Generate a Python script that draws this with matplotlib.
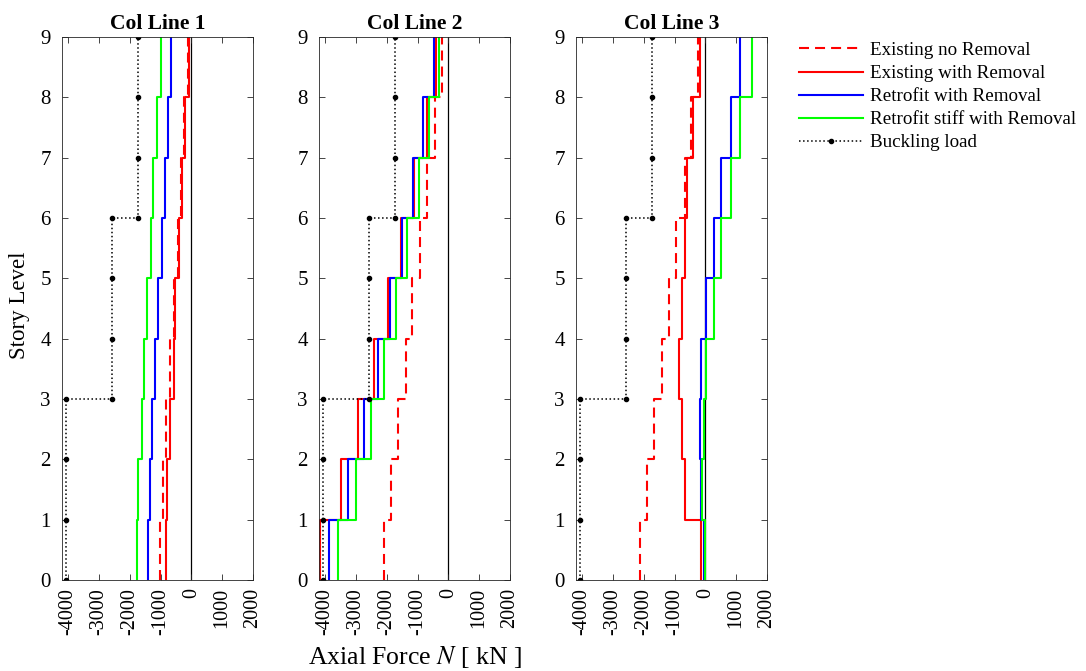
import numpy as np
import matplotlib
matplotlib.use("Agg")
import matplotlib.pyplot as plt

plt.rcParams['font.family'] = ['Liberation Serif', 'DejaVu Serif']
plt.rcParams['mathtext.fontset'] = 'stix'
plt.rcParams['axes.unicode_minus'] = False

# Axial force per story segment (0-1, 1-2, ..., 8-9), kN
titles = ["Col Line 1", "Col Line 2", "Col Line 3"]

exist_no_rem = [
    [-1025, -920, -810, -700, -580, -440, -350, -230, -100],
    [-2100, -1865, -1620, -1380, -1165, -925, -680, -430, -195],
    [-2135, -1895, -1670, -1410, -1180, -940, -670, -455, -230],
]
exist_rem = [
    [-810, -790, -685, -565, -520, -415, -310, -200, -75],
    [-4160, -3480, -2945, -2405, -1975, -1530, -1110, -700, -410],
    [-150, -650, -745, -855, -760, -670, -585, -400, -185],
]
retro_rem = [
    [-1400, -1345, -1270, -1165, -1080, -970, -865, -760, -650],
    [-3890, -3270, -2750, -2275, -1900, -1510, -1140, -820, -463],
    [-60, -150, -185, -130, 30, 270, 495, 820, 1135],
]
retro_stiff = [
    [-1770, -1720, -1610, -1540, -1430, -1310, -1240, -1130, -1000],
    [-3590, -3000, -2510, -2080, -1690, -1330, -970, -645, -300],
    [-20, -110, -55, 30, 270, 520, 820, 1135, 1500],
]

# buckling load: (force, story) points
buck_x = [-4070, -4070, -4070, -4070, -2570, -2570, -2570, -2570, -1720, -1720, -1720, -1720]
buck_y = [0, 1, 2, 3, 3, 4, 5, 6, 6, 7, 8, 9]

stories = np.arange(10)


def steps(vals):
    # vertical staircase: each value holds from story i to i+1
    x = np.repeat(vals, 2)
    y = np.repeat(stories, 2)[1:-1]
    return x, y


fig = plt.figure(figsize=(10.86, 6.71), dpi=100)

lefts = [62 / 1086, 319 / 1086, 576 / 1086]
w = 191 / 1086
b = 1 - 580 / 671
h = (580 - 37) / 671

axes = []
for k in range(3):
    ax = fig.add_axes([lefts[k], b, w, h])
    axes.append(ax)
    ax.axvline(0, color='black', lw=0.9, zorder=1)
    x, y = steps(exist_no_rem[k])
    ax.plot(x, y, color='#ff0000', lw=1.5, dashes=(4.8, 2.9), label='Existing no Removal')
    x, y = steps(exist_rem[k])
    ax.plot(x, y, color='#ff0000', lw=1.5, label='Existing with Removal')
    x, y = steps(retro_rem[k])
    ax.plot(x, y, color='#0000ff', lw=1.5, label='Retrofit with Removal')
    x, y = steps(retro_stiff[k])
    ax.plot(x, y, color='#00ff00', lw=1.5, label='Retrofit stiff with Removal')
    ax.plot(buck_x, buck_y, color='black', ls=':', lw=1.1, marker='.', ms=6,
            label='Buckling load')

    ax.set_xlim(-4200, 2000)
    ax.set_ylim(0, 9)
    ax.set_xticks(np.arange(-4000, 2001, 1000))
    ax.set_yticks(stories)
    ax.tick_params(direction='in', length=4, top=True, right=True,
                   color='#262626', width=0.6)
    ax.tick_params(axis='x', labelrotation=90, labelsize=14.5, pad=6)
    ax.tick_params(axis='y', labelsize=15, pad=8)
    for s in ax.spines.values():
        s.set_color('#262626')
        s.set_linewidth(0.6)
    ax.set_title(titles[k], fontsize=15.5, fontweight='bold', pad=6)

fig.text(20 / 1086, 1 - 305 / 671, 'Story Level', rotation=90, fontsize=16.5,
         ha='center', va='center')
fig.text(415 / 1086, 1 - 657 / 671, 'Axial Force $N$ [ kN ]', fontsize=18.5,
         ha='center', va='center')

handles, labels = axes[0].get_legend_handles_labels()
fig.legend(handles, labels, loc='upper left', bbox_to_anchor=(0.7285, 0.949),
           frameon=False, fontsize=13.7, handlelength=3.4, handletextpad=0.35,
           labelspacing=0.3, borderaxespad=0)

fig.savefig('out.png', dpi=100)
